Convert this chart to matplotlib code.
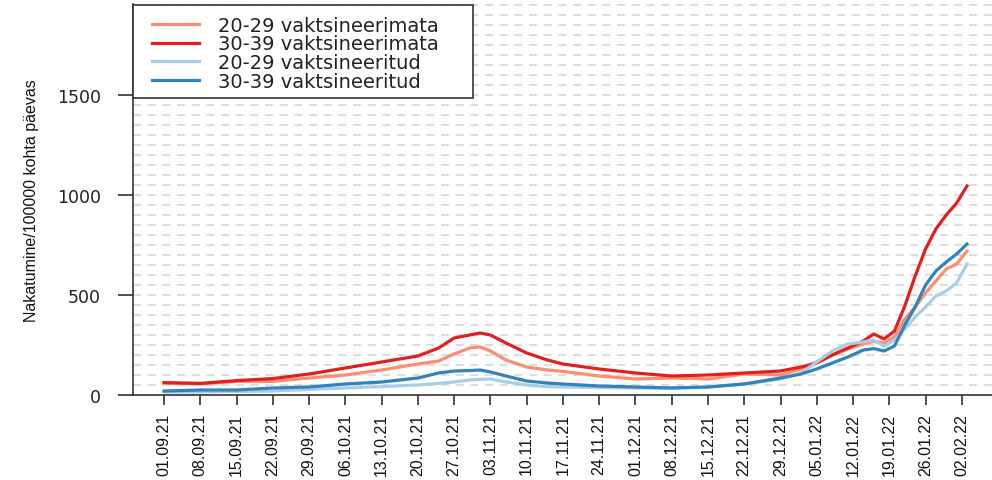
import matplotlib
matplotlib.use("Agg")
import matplotlib.pyplot as plt
from matplotlib.patches import Rectangle
from matplotlib.lines import Line2D
import numpy as np
import datetime as dt

# days since 01.09.2021
days = [0, 7, 14, 21, 28, 35, 42, 49, 53, 56, 59, 61, 63, 66, 70, 74, 77, 84, 91, 98,
        105, 112, 119, 123, 126, 129, 132, 135, 137, 139, 141, 143, 145, 147, 149, 151, 153, 155]

unvacc_20_29 = [60, 55, 68, 68, 85, 100, 125, 155, 170, 205, 235, 240, 220, 175, 140, 125, 118, 95, 80, 85,
                80, 105, 100, 130, 165, 200, 230, 255, 268, 260, 290, 380, 440, 510, 570, 630, 655, 720]
unvacc_30_39 = [62, 58, 72, 82, 105, 135, 165, 195, 235, 285, 300, 310, 300, 260, 210, 175, 155, 130, 110, 95,
                100, 110, 120, 140, 160, 200, 235, 270, 305, 280, 320, 445, 595, 730, 830, 900, 960, 1045]
vacc_20_29 = [15, 15, 18, 20, 28, 35, 42, 50, 58, 65, 75, 78, 80, 65, 50, 42, 40, 38, 35, 35,
              40, 55, 80, 110, 165, 220, 255, 265, 275, 245, 275, 330, 390, 440, 495, 520, 560, 655]
vacc_30_39 = [20, 25, 25, 35, 40, 55, 65, 85, 110, 120, 122, 125, 115, 95, 70, 60, 55, 45, 40, 35,
              40, 55, 85, 105, 130, 160, 190, 225, 232, 220, 245, 350, 440, 550, 620, 665, 705, 755]

series_labels = ["20-29 vaktsineerimata", "30-39 vaktsineerimata",
                 "20-29 vaktsineeritud", "30-39 vaktsineeritud"]
colors = ["#FC8D6F", "#E0201E", "#A6CEE6", "#3182BD"]

start = dt.date(2021, 9, 1)
tick_days = list(range(0, 155, 7))
tick_labels = [(start + dt.timedelta(days=d)).strftime("%d.%m.%y") for d in tick_days]
y_ticks = [0, 500, 1000, 1500]

W, H = 992, 481
PT = 72 / 100  # points per pixel
fig = plt.figure(figsize=(W / 100, H / 100), dpi=100)
left, right, top, bottom = 133, 992, 5, 396
ax = fig.add_axes([left / W, (H - bottom) / H, (right - left) / W, (bottom - top) / H])

x0 = -6.0
px_per_day = 5.18
ax.set_xlim(x0, x0 + (right - left) / px_per_day)
ymax = (bottom - top) * 5.0
ax.set_ylim(0, ymax)

# grid lines every 50
for g in np.arange(50, ymax, 50):
    ax.axhline(g, color="#D3D3D3", lw=1.1, ls=(0, (5.3, 4.3)), zorder=1)

for vals, col in zip([unvacc_20_29, unvacc_30_39, vacc_20_29, vacc_30_39], colors):
    ax.plot(days, vals, color=col, lw=2.3, zorder=3, solid_joinstyle="round")

for s in ["top", "right"]:
    ax.spines[s].set_visible(False)
for s in ["left", "bottom"]:
    ax.spines[s].set_color("#333333")
    ax.spines[s].set_linewidth(1.2)

ax.set_yticks(y_ticks)
ax.set_yticklabels([str(v) for v in y_ticks], fontsize=12.5, family="DejaVu Sans", color="#222222")
ax.tick_params(axis="y", length=15 * PT, width=1.2, color="#333333", pad=17 * PT)
ax.set_xticks(tick_days)
ax.set_xticklabels(tick_labels, rotation=90, fontsize=11.5, family="Liberation Sans", color="#111111")
ax.tick_params(axis="x", length=10 * PT, width=1.2, color="#333333", pad=8 * PT)

fig.text(32 / W, 1 - 201 / H, "Nakatumine/100000 kohta päevas", rotation=90,
         ha="center", va="center", fontsize=11.5, family="Liberation Sans", color="#111111")

# legend box (manual, in figure pixels)
def fx(px):
    return px / W

def fy(py):
    return 1 - py / H

box = Rectangle((fx(133), fy(99)), fx(473) - fx(133), fy(6) - fy(99), transform=fig.transFigure,
                facecolor="white", edgecolor="#333333", lw=1.2, zorder=10)
fig.add_artist(box)
row_y = [25, 43.7, 62.3, 81]
for yy, col, lab in zip(row_y, colors, series_labels):
    fig.add_artist(Line2D([fx(152), fx(199)], [fy(yy), fy(yy)], transform=fig.transFigure,
                          color=col, lw=2.3, zorder=11))
    fig.text(fx(218), fy(yy + 6.5), lab, ha="left", va="baseline", fontsize=14,
             family="DejaVu Sans", color="#222222", zorder=11)

fig.savefig("out.png", dpi=100)
